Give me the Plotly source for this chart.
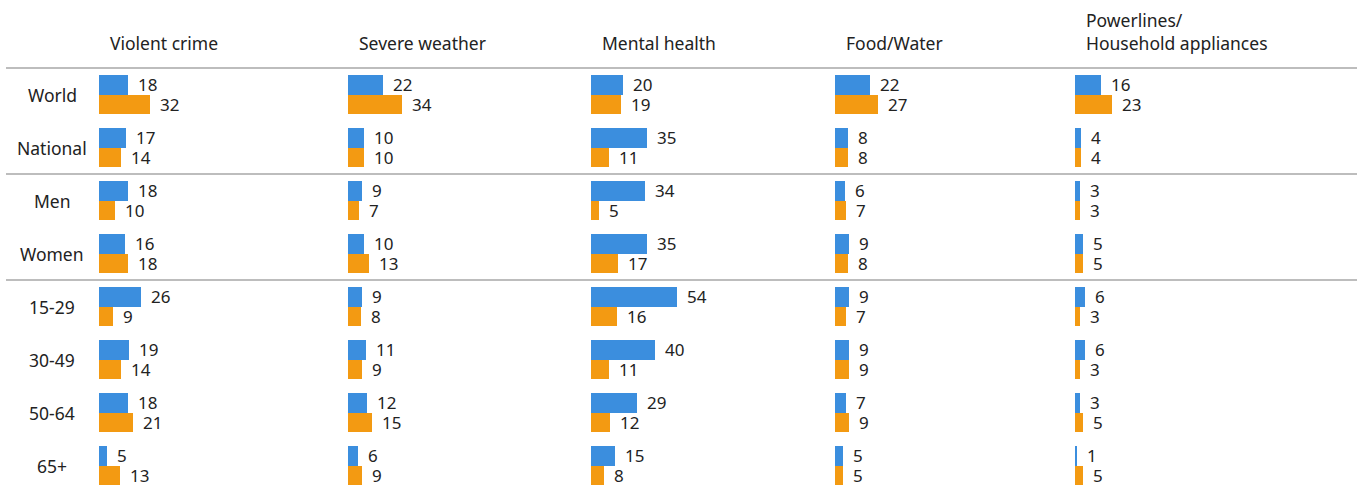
import plotly.graph_objects as go

categories = ["Violent crime", "Severe weather", "Mental health", "Food/Water",
              "Powerlines/<br>Household appliances"]
groups = ["World", "National", "Men", "Women", "15-29", "30-49", "50-64", "65+"]

blue_violent = [18, 17, 18, 16, 26, 19, 18, 5]
orange_violent = [32, 14, 10, 18, 9, 14, 21, 13]
blue_weather = [22, 10, 9, 10, 9, 11, 12, 6]
orange_weather = [34, 10, 7, 13, 8, 9, 15, 9]
blue_mental = [20, 35, 34, 35, 54, 40, 29, 15]
orange_mental = [19, 11, 5, 17, 16, 11, 12, 8]
blue_food = [22, 8, 6, 9, 9, 9, 7, 5]
orange_food = [27, 8, 7, 8, 7, 9, 9, 5]
blue_power = [16, 4, 3, 5, 6, 6, 3, 1]
orange_power = [23, 4, 3, 5, 3, 3, 5, 5]

blue_series = [blue_violent, blue_weather, blue_mental, blue_food, blue_power]
orange_series = [orange_violent, orange_weather, orange_mental, orange_food, orange_power]

W, H = 1357, 485
BLUE = "#3B8EDE"
ORANGE = "#F39A12"
FONT = "Noto Sans"
TXT = "#222222"

col_origin_px = [99, 348, 591, 835, 1075]
px_per_unit = 1.6
col_width_px = 200
row_pitch = 53.0
row0_px = 94.5
bar_w = 0.37
off = 0.185

# y range so that row i is at pixel row0_px + row_pitch*i
y_top = -row0_px / row_pitch
y_bot = (H - row0_px) / row_pitch

fig = go.Figure()
annotations = []
rows = list(range(len(groups)))

for k in range(len(categories)):
    xa = "x" if k == 0 else f"x{k+1}"
    for series, color, sign in ((blue_series[k], BLUE, -1), (orange_series[k], ORANGE, 1)):
        ys = [r + sign * off for r in rows]
        fig.add_trace(go.Bar(
            x=series, y=ys, orientation="h", width=bar_w,
            marker=dict(color=color, line=dict(width=0)),
            xaxis=xa, yaxis="y", showlegend=False, hoverinfo="x",
        ))
        for v, yy in zip(series, ys):
            annotations.append(dict(
                x=v, y=yy, xref=xa, yref="y", text=str(v), showarrow=False,
                xanchor="left", yanchor="middle", xshift=8,
                font=dict(family=FONT, size=17, color=TXT),
            ))
    # header
    annotations.append(dict(
        x=(col_origin_px[k] + 9) / W, y=1 - 57 / H, xref="paper", yref="paper",
        text=categories[k], showarrow=False, xanchor="left", yanchor="bottom",
        align="left", font=dict(family=FONT, size=17.5, color=TXT),
    ))
    dom0 = col_origin_px[k] / W
    dom1 = (col_origin_px[k] + col_width_px) / W
    axname = "xaxis" if k == 0 else f"xaxis{k+1}"
    fig.layout[axname] = dict(domain=[dom0, dom1], range=[0, col_width_px / px_per_unit],
                              visible=False, anchor="y", fixedrange=True)

for r, g in zip(rows, groups):
    annotations.append(dict(
        x=52 / W, y=r, xref="paper", yref="y", text=g, showarrow=False,
        xanchor="center", yanchor="middle",
        font=dict(family=FONT, size=17.5, color=TXT),
    ))

shapes = []
for yb in (-0.5, 1.5, 3.5):
    shapes.append(dict(type="line", xref="paper", yref="y", x0=6 / W, x1=1,
                       y0=yb, y1=yb, line=dict(color="#BDBDBD", width=2)))

fig.update_layout(
    width=W, height=H,
    margin=dict(l=0, r=0, t=0, b=0),
    paper_bgcolor="white", plot_bgcolor="white",
    yaxis=dict(range=[y_bot, y_top], visible=False, fixedrange=True),
    annotations=annotations, shapes=shapes,
    bargap=0, showlegend=False,
    font=dict(family=FONT, color=TXT),
)

fig.write_html(
    "out.html",
    config={"displayModeBar": False},
    post_script="document.body.style.margin='0';document.body.style.overflow='hidden';",
)
